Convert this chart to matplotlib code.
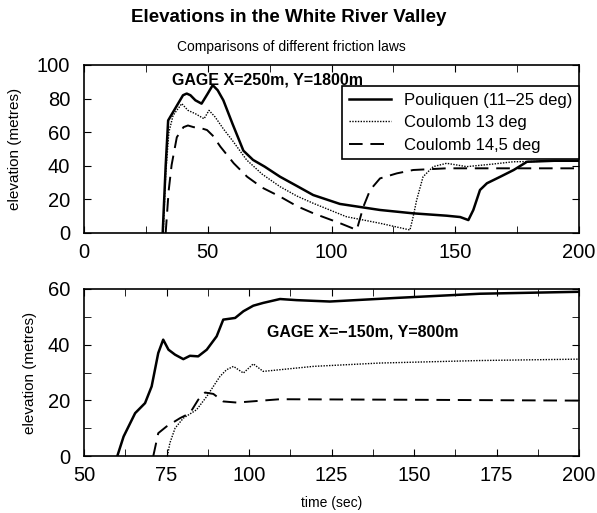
import matplotlib
matplotlib.use("Agg")
import matplotlib.pyplot as plt
from matplotlib.ticker import MultipleLocator

plt.rcParams['font.family'] = ['Liberation Sans', 'DejaVu Sans']

# Top panel: GAGE X=250m, Y=1800m
t1_pou = [31.8, 33.0, 34.0, 36.0, 38.0, 40.0, 41.5, 43.0, 45.0, 47.5, 50.0, 52.0, 54.0, 56.3, 60.0, 64.4, 68.3, 73.0, 79.2, 86.0, 92.6, 103.4, 119.6, 133.0, 146.5, 152.0, 155.3, 157.3, 160.0, 162.8, 168.2, 173.6, 179.0, 190.0, 200.0]
e1_pou = [0.0, 40.0, 67.0, 72.0, 77.0, 82.0, 83.0, 82.0, 79.0, 77.0, 83.0, 88.0, 85.0, 79.0, 65.0, 49.0, 43.5, 39.5, 33.5, 28.0, 22.6, 17.3, 13.7, 11.7, 10.3, 9.5, 7.7, 13.7, 25.6, 29.6, 33.5, 37.5, 42.4, 43.0, 43.0]

t1_c13 = [32.0, 33.0, 34.3, 36.0, 38.0, 39.5, 42.0, 45.0, 48.5, 50.5, 53.0, 56.3, 60.0, 65.7, 72.0, 79.2, 86.0, 92.6, 106.0, 119.6, 131.7, 133.0, 134.4, 137.0, 141.1, 146.5, 154.6, 165.0, 173.5, 200.0]
e1_c13 = [0.0, 35.0, 60.0, 70.0, 74.0, 77.0, 73.0, 71.0, 68.0, 73.0, 69.0, 62.0, 55.0, 43.5, 35.0, 27.6, 22.0, 17.7, 9.7, 5.8, 1.8, 9.7, 19.6, 33.5, 39.5, 41.5, 39.5, 41.0, 42.4, 43.0]

t1_c145 = [33.0, 34.2, 35.4, 37.5, 40.2, 42.0, 44.3, 47.0, 49.7, 52.0, 55.1, 60.5, 65.9, 72.0, 79.3, 86.0, 92.7, 103.5, 110.2, 112.9, 115.6, 119.6, 126.4, 133.0, 146.5, 170.0, 200.0]
e1_c145 = [0.0, 25.0, 40.5, 57.0, 63.0, 64.0, 63.0, 62.5, 61.3, 58.0, 51.4, 41.5, 33.5, 27.0, 21.6, 16.0, 11.7, 5.8, 1.8, 15.7, 25.6, 32.5, 35.5, 37.5, 38.5, 38.5, 38.5]

# Bottom panel: GAGE X=-150m, Y=800m
t2_pou = [60.1, 62.0, 65.5, 68.5, 70.5, 72.5, 74.0, 75.6, 77.6, 80.1, 82.1, 84.6, 87.2, 90.2, 92.2, 95.8, 98.3, 101.3, 104.3, 109.4, 114.4, 124.5, 144.7, 170.0, 200.0]
e2_pou = [0.0, 7.0, 15.4, 19.0, 25.0, 37.0, 41.8, 38.2, 36.4, 34.8, 36.0, 35.8, 38.2, 43.0, 49.0, 49.6, 52.0, 54.0, 55.0, 56.4, 56.0, 55.5, 56.8, 58.3, 59.0]

t2_c13 = [75.3, 76.0, 77.6, 80.1, 84.1, 87.2, 89.2, 91.2, 93.2, 95.3, 98.3, 101.3, 104.3, 119.5, 139.7, 170.0, 200.0]
e2_c13 = [0.0, 4.6, 10.0, 13.6, 16.6, 21.4, 25.0, 28.6, 31.0, 32.2, 29.8, 33.1, 30.4, 32.2, 33.4, 34.3, 34.8]

t2_c145 = [71.0, 72.5, 75.0, 79.1, 82.1, 84.6, 86.7, 89.2, 92.2, 96.3, 109.4, 149.8, 200.0]
e2_c145 = [0.0, 8.2, 10.6, 13.6, 15.4, 20.2, 22.8, 22.3, 19.6, 19.2, 20.4, 20.2, 19.9]

labels = ['Pouliquen (11\u201325 deg)', 'Coulomb 13 deg', 'Coulomb 14,5 deg']

fig = plt.figure(figsize=(5.97, 5.13), dpi=100)
ax1 = fig.add_axes([84/597, 1-233/513, 495/597, 168/513])
ax2 = fig.add_axes([84/597, 1-456/513, 495/597, 167/513])

styles = [dict(color='black', lw=1.8, ls='-'),
          dict(color='black', lw=1.0, ls=(0, (1, 1))),
          dict(color='black', lw=1.4, ls=(0, (7, 4)))]

ax1.plot(t1_pou, e1_pou, label=labels[0], **styles[0])
ax1.plot(t1_c13, e1_c13, label=labels[1], **styles[1])
ax1.plot(t1_c145, e1_c145, label=labels[2], **styles[2])
ax2.plot(t2_pou, e2_pou, **styles[0])
ax2.plot(t2_c13, e2_c13, **styles[1])
ax2.plot(t2_c145, e2_c145, **styles[2])

ax1.set_xlim(0, 200)
ax1.set_ylim(0, 100)
ax1.xaxis.set_major_locator(MultipleLocator(50))
ax1.xaxis.set_minor_locator(MultipleLocator(25))
ax1.yaxis.set_major_locator(MultipleLocator(20))

ax2.set_xlim(50, 200)
ax2.set_ylim(0, 60)
ax2.xaxis.set_major_locator(MultipleLocator(25))
ax2.xaxis.set_minor_locator(MultipleLocator(12.5))
ax2.yaxis.set_major_locator(MultipleLocator(20))
ax2.yaxis.set_minor_locator(MultipleLocator(10))

for ax in (ax1, ax2):
    ax.tick_params(which='both', direction='in', top=True, right=True, labelsize=14.5)
    ax.tick_params(which='both', length=5)
    ax.tick_params(axis='y', which='major', pad=10)
    ax.tick_params(axis='x', which='major', pad=7)
    ax.set_ylabel('elevation (metres)', fontsize=11)
    for s in ax.spines.values():
        s.set_linewidth(1.2)

ax1.yaxis.set_label_coords(-0.125, 0.5)
ax2.yaxis.set_label_coords(-0.095, 0.5)

ax2.set_xlabel('time (sec)', fontsize=10, labelpad=8)

ax1.text(0.37, 0.91, 'GAGE X=250m, Y=1800m', transform=ax1.transAxes,
         ha='center', va='center', fontsize=11.5, fontweight='bold')
ax2.text(0.564, 0.74, 'GAGE X=\u2212150m, Y=800m', transform=ax2.transAxes,
         ha='center', va='center', fontsize=11.5, fontweight='bold')

leg = ax1.legend(loc='upper right', bbox_to_anchor=(1.0, 0.875), fontsize=12,
                 frameon=True, fancybox=False, edgecolor='black', borderaxespad=0,
                 borderpad=0.4, handlelength=2.5, handletextpad=0.8, labelspacing=0.45)
leg.get_frame().set_linewidth(1.2)
leg.get_frame().set_alpha(1)

fig.text(289/597, 1-18/513, 'Elevations in the White River Valley', ha='center', va='center',
         fontsize=13.5, fontweight='bold')
fig.text(291/597, 1-47/513, 'Comparisons of different friction laws', ha='center', va='center',
         fontsize=10)

fig.savefig('out.png', dpi=100)
